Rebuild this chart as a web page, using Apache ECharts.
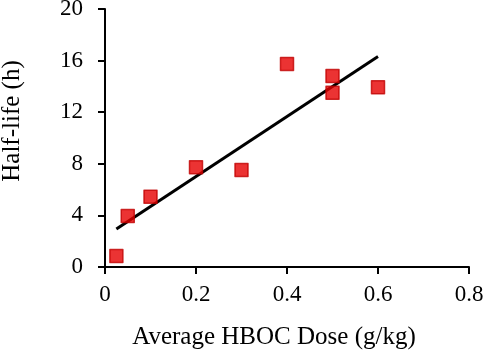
<!DOCTYPE html>
<html>
<head>
<meta charset="utf-8">
<script src="https://cdn.jsdelivr.net/npm/echarts@6/dist/echarts.min.js"></script>
<style>
  html, body { margin: 0; padding: 0; background: #fff; }
  #chart { width: 484px; height: 353px; }
</style>
</head>
<body>
<div id="chart"></div>
<script>
// Average HBOC dose (g/kg) vs half-life (h)
const doseValues = [0.025, 0.05, 0.1, 0.2, 0.3, 0.4, 0.5, 0.5, 0.6];
const halfLifeValues = [0.85, 3.95, 5.45, 7.73, 7.52, 15.74, 14.8, 13.5, 13.93];

// linear trendline endpoints
const trendX = [0.025, 0.6];
const trendY = [2.94, 16.32];

const font = "'Liberation Serif', 'Times New Roman', serif";

const chart = echarts.init(document.getElementById("chart"));

const option = {
  animation: false,
  grid: {
    left: 105,
    right: 15,
    top: 9,
    bottom: 86,
    outerBoundsMode: "none",
    containLabel: false,
  },
  xAxis: {
    type: "value",
    min: 0,
    max: 0.8,
    interval: 0.2,
    name: "Average HBOC Dose (g/kg)",
    nameLocation: "middle",
    nameGap: 58,
    nameTextStyle: { fontFamily: font, fontSize: 25, color: "#000", padding: [0, 26, 0, 0] },
    axisLine: { show: true, lineStyle: { color: "#000", width: 2 } },
    axisTick: { show: true, inside: false, length: 7, lineStyle: { color: "#000", width: 2 } },
    axisLabel: { fontFamily: font, fontSize: 23, color: "#000", margin: 16 },
    splitLine: { show: false },
  },
  yAxis: {
    type: "value",
    min: 0,
    max: 20,
    interval: 4,
    name: "Half-life (h)",
    nameLocation: "middle",
    nameGap: 80,
    nameTextStyle: { fontFamily: font, fontSize: 25, color: "#000", padding: [0, 0, 0, 34] },
    axisLine: { show: true, lineStyle: { color: "#000", width: 2 } },
    axisTick: { show: true, inside: false, length: 7, lineStyle: { color: "#000", width: 2 } },
    axisLabel: { fontFamily: font, fontSize: 23, color: "#000", margin: 22 },
    splitLine: { show: false },
  },
  series: [
    {
      type: "line",
      data: trendX.map((x, i) => [x, trendY[i]]),
      symbol: "none",
      lineStyle: { color: "#000", width: 3 },
      z: 2,
    },
    {
      type: "scatter",
      data: doseValues.map((x, i) => [x, halfLifeValues[i]]),
      symbol: "rect",
      symbolSize: 13,
      itemStyle: { color: "#e60000", borderColor: "#c00000", borderWidth: 1.5, borderJoin: "round" },
      z: 3,
    },
  ],
};

chart.setOption(option);
</script>
</body>
</html>
